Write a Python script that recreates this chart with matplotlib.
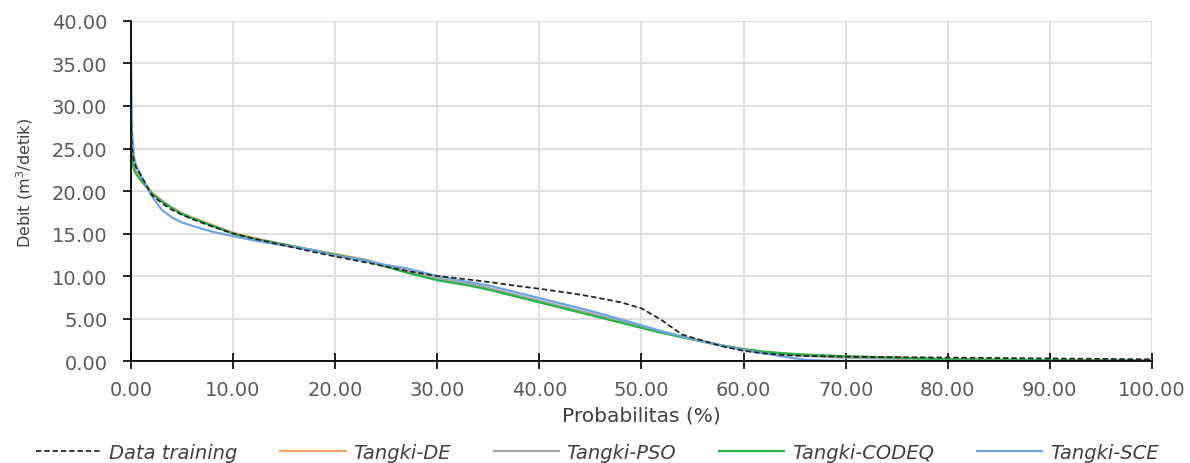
import matplotlib
matplotlib.use("Agg")
import matplotlib.pyplot as plt
from matplotlib.ticker import FormatStrFormatter

prob = [0, 0.1, 0.3, 0.5, 1, 2, 3, 4, 5, 6, 8, 10, 12, 15, 18, 20, 23, 25, 27, 30,
        33, 35, 38, 40, 43, 45, 48, 50, 52, 54, 56, 58, 60, 62, 64, 66, 68, 70, 75,
        80, 90, 100]

data_training = [30.0, 25.0, 23.5, 22.8, 21.8, 19.6, 18.6, 17.8, 17.2, 16.7, 15.8, 15.0,
                 14.4, 13.6, 12.8, 12.3, 11.6, 11.1, 10.6, 10.0, 9.6, 9.3, 8.8, 8.5, 8.0,
                 7.6, 6.9, 6.2, 4.8, 3.1, 2.4, 1.7, 1.2, 0.9, 0.7, 0.6, 0.55, 0.5, 0.45,
                 0.4, 0.3, 0.2]

tangki_de = [27.0, 24.0, 23.0, 22.3, 21.4, 19.9, 18.9, 18.1, 17.4, 16.9, 16.0, 15.1,
             14.5, 13.7, 13.0, 12.6, 11.9, 11.2, 10.5, 9.6, 9.0, 8.5, 7.6, 7.0, 6.1,
             5.5, 4.6, 4.0, 3.4, 2.8, 2.3, 1.8, 1.4, 1.1, 0.9, 0.75, 0.65, 0.55, 0.4,
             0.2, 0.1, 0.05]

tangki_pso = [26.5, 24.0, 22.8, 22.2, 21.3, 19.8, 18.8, 18.0, 17.3, 16.8, 15.9, 15.0,
              14.4, 13.7, 13.0, 12.5, 11.9, 11.2, 10.6, 9.7, 9.1, 8.6, 7.7, 7.1, 6.2,
              5.6, 4.7, 4.0, 3.4, 2.8, 2.3, 1.8, 1.4, 1.0, 0.8, 0.6, 0.5, 0.4, 0.25,
              0.1, 0.05, 0.02]

tangki_codeq = [25.0, 23.5, 22.5, 22.0, 21.2, 19.8, 18.8, 18.0, 17.3, 16.8, 15.9, 15.0,
                14.4, 13.7, 13.0, 12.5, 11.8, 11.1, 10.4, 9.5, 8.9, 8.4, 7.5, 6.9, 6.0,
                5.4, 4.5, 3.9, 3.3, 2.8, 2.3, 1.8, 1.4, 1.1, 0.9, 0.75, 0.65, 0.55, 0.4,
                0.2, 0.1, 0.05]

tangki_sce = [37.5, 27.0, 24.0, 23.0, 21.8, 19.5, 17.8, 16.9, 16.3, 15.9, 15.2, 14.7,
              14.2, 13.6, 13.0, 12.4, 11.8, 11.3, 10.9, 10.0, 9.3, 8.9, 8.0, 7.4, 6.5,
              5.9, 4.9, 4.2, 3.5, 2.9, 2.3, 1.8, 1.3, 0.9, 0.5, 0.15, 0.05, 0.02, 0.0,
              0.0, 0.0, 0.0]

x_ticks = [0, 10, 20, 30, 40, 50, 60, 70, 80, 90, 100]
y_ticks = [0, 5, 10, 15, 20, 25, 30, 35, 40]

fig = plt.figure(figsize=(11.9, 4.64), dpi=100)
ax = fig.add_axes([0.110, 0.2198, 0.858, 0.7328])

ax.plot(prob, data_training, color="#262626", lw=1.3, ls=(0, (3, 1.6)),
        label="Data training", zorder=3)
ax.plot(prob, tangki_de, color="#F4A36C", lw=1.6, label="Tangki-DE", zorder=2)
ax.plot(prob, tangki_pso, color="#A5A5A5", lw=1.6, label="Tangki-PSO", zorder=2)
ax.plot(prob, tangki_codeq, color="#2DB350", lw=1.6, label="Tangki-CODEQ", zorder=2)
ax.plot(prob, tangki_sce, color="#6FA4DC", lw=1.6, label="Tangki-SCE", zorder=2)

ax.set_xlim(0, 100)
ax.set_ylim(0, 40)
ax.set_xticks(x_ticks)
ax.set_yticks(y_ticks)
ax.xaxis.set_major_formatter(FormatStrFormatter("%.2f"))
ax.yaxis.set_major_formatter(FormatStrFormatter("%.2f"))

ax.grid(True, color="#D9D9D9", lw=1.2, zorder=0)
ax.set_axisbelow(True)
for s in ["top", "right"]:
    ax.spines[s].set_visible(False)
ax.spines["left"].set_color("black")
ax.spines["bottom"].set_color("black")
ax.spines["left"].set_linewidth(1.3)
ax.spines["bottom"].set_linewidth(1.3)

ax.tick_params(axis="x", direction="inout", length=11, width=1.2, colors="black",
               labelcolor="#595959", labelsize=14, pad=8)
ax.tick_params(axis="y", direction="out", length=6, width=1.2, colors="black",
               labelcolor="#595959", labelsize=14, pad=11)

ax.set_xlabel("Probabilitas (%)", fontsize=14.5, color="#404040", labelpad=5)
ax.set_ylabel("Debit (m$^3$/detik)", fontsize=11.5, color="#404040")
ax.yaxis.set_label_coords(-0.094, 0.526)

leg = fig.legend(loc="lower center", bbox_to_anchor=(0.502, -0.035), ncol=5,
                 frameon=False, handlelength=3.35, columnspacing=2.2,
                 handletextpad=0.4,
                 prop={"style": "italic", "size": 14})
for t in leg.get_texts():
    t.set_color("#404040")

fig.savefig("out.png", dpi=100)
